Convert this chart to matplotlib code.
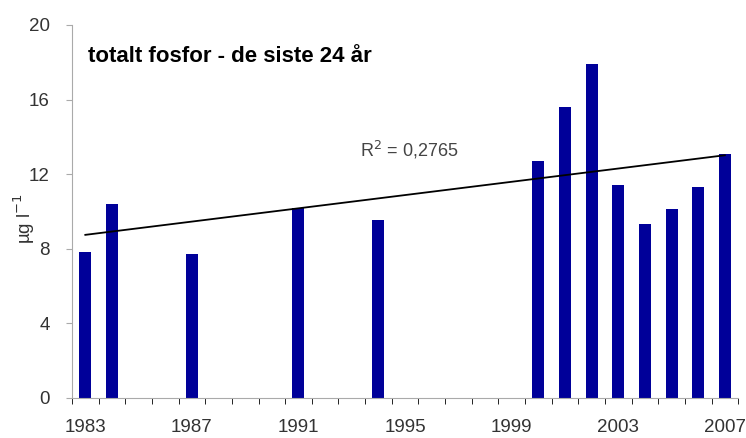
import numpy as np
import matplotlib
matplotlib.use("Agg")
import matplotlib.pyplot as plt

plt.rcParams['font.family'] = ['Liberation Sans', 'DejaVu Sans']

# data
years = list(range(1983, 2008))
values = {1983: 7.8, 1984: 10.4, 1987: 7.7, 1991: 10.2, 1994: 9.55,
          2000: 12.7, 2001: 15.6, 2002: 17.9, 2003: 11.4, 2004: 9.3,
          2005: 10.1, 2006: 11.3, 2007: 13.1}
tick_years = [1983, 1987, 1991, 1995, 1999, 2003, 2007]
title = "totalt fosfor - de siste 24 år"
r2_text = "R$^2$ = 0,2765"

fig = plt.figure(figsize=(7.46, 4.38), dpi=100)
ax = fig.add_axes([0.0965, 0.092, 0.893, 0.851])

x_data = np.array([years.index(y) for y in values])
y_data = np.array(list(values.values()))
ax.bar(x_data, y_data, width=0.45, color='#000099')

# lineær trendlinje
k, m = np.polyfit(np.array(list(values.keys())), y_data, 1)
xl = np.array([0, len(years) - 1])
ax.plot(xl, k * (xl + years[0]) + m, color='black', lw=1.3)

ax.set_xlim(-0.5, len(years) - 0.5)
ax.set_ylim(0, 20)
ax.set_yticks(range(0, 21, 4))
ax.set_xticks([years.index(y) for y in tick_years])
ax.set_xticklabels([str(y) for y in tick_years])
ax.set_xticks(np.arange(-0.5, len(years), 1), minor=True)

for s in ['top', 'right']:
    ax.spines[s].set_visible(False)
for s in ['left', 'bottom']:
    ax.spines[s].set_color('#aaaaaa')
ax.tick_params(axis='both', colors='#aaaaaa', labelcolor='#333333', labelsize=13.5)
ax.tick_params(axis='x', which='major', length=0, pad=15)
ax.tick_params(axis='x', which='minor', length=4)
ax.tick_params(axis='y', length=4, pad=12)

ax.set_ylabel("µg l$^{-1}$", fontsize=13.5, color='#333333')
ax.yaxis.set_label_coords(-0.053, 0.48)

ax.text(0.1, 18.3, title, fontsize=16, fontweight='bold', va='center')
ax.text(10.3, 13.3, r2_text, fontsize=13, color='#444444', va='center')

fig.savefig("out.png", dpi=100)
